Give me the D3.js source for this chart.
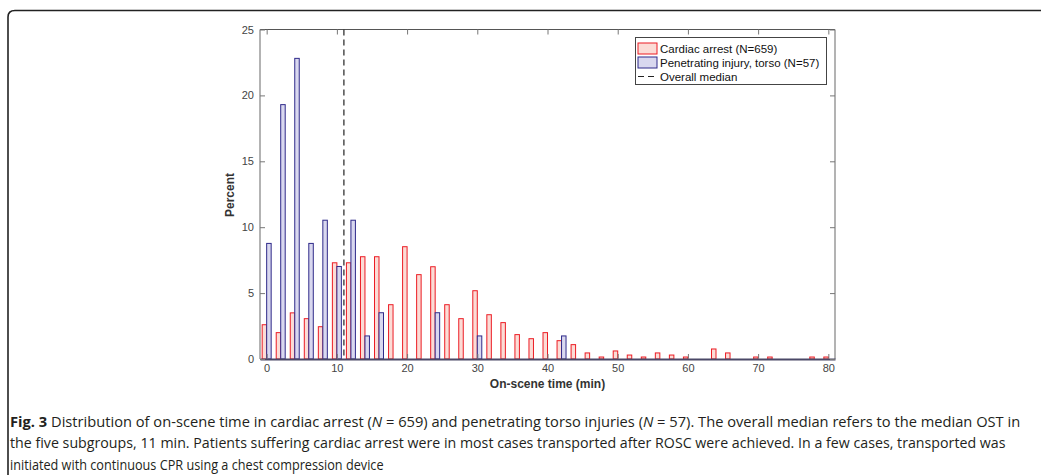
<!DOCTYPE html>
<html>
<head>
<meta charset="utf-8">
<script src="https://cdn.jsdelivr.net/npm/d3@7"></script>
<style>
html,body{margin:0;padding:0;background:#fff;}
svg{display:block;}
</style>
</head>
<body>
<svg id="chart" width="1041" height="475"></svg>
<script>
// ---- data ----
const binCenters = d3.range(0, 81, 2); // on-scene time bins (min)
const cardiacArrest = [2.6,2.0,3.5,3.06,2.45,7.3,7.3,7.76,7.76,4.12,8.52,6.4,7.0,4.12,3.06,5.18,3.36,2.76,1.85,1.54,2.0,1.39,1.09,0.46,0.15,0.61,0.3,0.15,0.46,0.3,0.15,0,0.76,0.46,0,0.15,0.15,0,0,0.15,0.15];
const penetrating = [8.77,19.3,22.81,8.77,10.53,7.02,10.53,1.75,3.51,0,0,0,3.51,0,0,1.75,0,0,0,0,0,1.75,0,0,0,0,0,0,0,0,0,0,0,0,0,0,0,0,0,0,0];
const overallMedian = 11;
const xTicks = [0,10,20,30,40,50,60,70,80];
const yTicks = [0,5,10,15,20,25];
const legendLabels = ["Cardiac arrest (N=659)", "Penetrating injury, torso (N=57)", "Overall median"];
const xLabel = "On-scene time (min)";
const yLabel = "Percent";
const captionLines = [
  [{t:"Fig. 3", b:true},{t:" Distribution of on-scene time in cardiac arrest ("},{t:"N",i:true},{t:" = 659) and penetrating torso injuries ("},{t:"N",i:true},{t:" = 57). The overall median refers to the median OST in"}],
  [{t:"the five subgroups, 11 min. Patients suffering cardiac arrest were in most cases transported after ROSC were achieved. In a few cases, transported was"}],
  [{t:"initiated with continuous CPR using a chest compression device"}]
];

// ---- layout ----
const svg = d3.select("#chart");
const L = 260, R = 835, T = 29.5, B = 359;
const x = d3.scaleLinear().domain([-0.95, 80.95]).range([L, R]);
const y = d3.scaleLinear().domain([0, 25]).range([B, T]);
const barW = 0.64;
const redEdge = "#ec1c24", redFill = "#fbdcd6";
const blueEdge = "#2f2a8a", blueFill = "#d9d8ef";
const FONT = "Arial, 'Liberation Sans', sans-serif";

// outer frame
svg.append("path")
  .attr("d", "M8,475 L8,17 Q8,10.5 15,10.5 L1041,10.5")
  .attr("fill","none").attr("stroke","#222").attr("stroke-width",1.6);

// bars
const g = svg.append("g");
binCenters.forEach((c, i) => {
  if (cardiacArrest[i] > 0) {
    g.append("rect")
      .attr("x", x(c - barW)).attr("width", x(barW) - x(0))
      .attr("y", y(cardiacArrest[i])).attr("height", y(0) - y(cardiacArrest[i]))
      .attr("fill", redFill).attr("stroke", redEdge).attr("stroke-width", 1);
  }
  if (penetrating[i] > 0) {
    g.append("rect")
      .attr("x", x(c)).attr("width", x(barW) - x(0))
      .attr("y", y(penetrating[i])).attr("height", y(0) - y(penetrating[i]))
      .attr("fill", blueFill).attr("stroke", blueEdge).attr("stroke-width", 1);
  }
});

// axes box
const axisCol = "#8a8a8a";
svg.append("line").attr("x1",L).attr("x2",R).attr("y1",T).attr("y2",T).attr("stroke","#555").attr("stroke-width",1);
svg.append("line").attr("x1",L).attr("x2",L).attr("y1",T).attr("y2",B).attr("stroke",axisCol).attr("stroke-width",1.3);
svg.append("line").attr("x1",R).attr("x2",R).attr("y1",T).attr("y2",B).attr("stroke",axisCol).attr("stroke-width",1.3);

// x axis
const xAxis = svg.append("g").attr("transform", `translate(0,${B})`)
  .call(d3.axisBottom(x).tickValues(xTicks).tickSizeInner(-5).tickSizeOuter(0).tickPadding(5));
xAxis.select(".domain").attr("stroke","#4a4867").attr("stroke-width",2);
xAxis.selectAll(".tick line").attr("stroke","#777");
xAxis.selectAll("text").attr("font-family",FONT).attr("font-size","11px").attr("fill","#444");
// top ticks
svg.append("g").attr("transform", `translate(0,${T})`)
  .call(d3.axisTop(x).tickValues(xTicks).tickSizeInner(-5).tickSizeOuter(0).tickFormat(""))
  .call(s => { s.select(".domain").remove(); s.selectAll(".tick line").attr("stroke","#777"); });

// y axis
const yAxis = svg.append("g").attr("transform", `translate(${L},0)`)
  .call(d3.axisLeft(y).tickValues(yTicks).tickSizeInner(-5).tickSizeOuter(0).tickPadding(6));
yAxis.select(".domain").remove();
yAxis.selectAll(".tick line").attr("stroke","#777");
yAxis.selectAll("text").attr("font-family",FONT).attr("font-size","11px").attr("fill","#444");
svg.append("g").attr("transform", `translate(${R},0)`)
  .call(d3.axisRight(y).tickValues(yTicks).tickSizeInner(-5).tickSizeOuter(0).tickFormat(""))
  .call(s => { s.select(".domain").remove(); s.selectAll(".tick line").attr("stroke","#777"); });

// median line
svg.append("line")
  .attr("x1", x(overallMedian)).attr("x2", x(overallMedian))
  .attr("y1", T).attr("y2", B - 1)
  .attr("stroke","#333").attr("stroke-width",1.3).attr("stroke-dasharray","6,4");

// axis labels
svg.append("text").attr("x", (L+R)/2).attr("y", 387.5).attr("text-anchor","middle")
  .attr("font-family",FONT).attr("font-size","12px").attr("font-weight","bold").attr("fill","#333")
  .text(xLabel);
svg.append("text").attr("transform", `translate(234,195) rotate(-90)`).attr("text-anchor","middle")
  .attr("font-family",FONT).attr("font-size","12px").attr("font-weight","bold").attr("fill","#333")
  .text(yLabel);

// legend
const lg = svg.append("g");
lg.append("rect").attr("x",635.5).attr("y",37.5).attr("width",191).attr("height",47)
  .attr("fill","#fff").attr("stroke","#444").attr("stroke-width",1);
const rowY = [48.5, 62.5, 76.5];
lg.append("rect").attr("x",638).attr("y",rowY[0]-5.5).attr("width",19).attr("height",11)
  .attr("fill",redFill).attr("stroke",redEdge).attr("stroke-width",1);
lg.append("rect").attr("x",638).attr("y",rowY[1]-5.5).attr("width",19).attr("height",11)
  .attr("fill",blueFill).attr("stroke",blueEdge).attr("stroke-width",1);
lg.append("line").attr("x1",638).attr("x2",657).attr("y1",rowY[2]).attr("y2",rowY[2])
  .attr("stroke","#222").attr("stroke-width",1.2).attr("stroke-dasharray","6,4");
legendLabels.forEach((t, i) => {
  lg.append("text").attr("x", 660).attr("y", rowY[i]).attr("dy","0.35em")
    .attr("font-family",FONT).attr("font-size","11.5px").attr("fill","#111")
    .text(t);
});

// caption (condensed look via horizontal scaling)
const capBase = [426.5, 448, 469.5];
const capEnd = [1021, 1006, 384];
captionLines.forEach((parts, i) => {
  const grp = svg.append("g");
  const t = grp.append("text").attr("x", 0).attr("y", 0)
    .attr("font-family","'Open Sans', sans-serif").attr("font-size","15px").attr("fill","#231f20");
  parts.forEach(p => {
    const s = t.append("tspan").text(p.t);
    if (p.b) s.attr("font-weight","bold");
    if (p.i) s.attr("font-style","italic");
  });
  const w = t.node().getComputedTextLength();
  const sx = (capEnd[i] - 10) / w;
  grp.attr("transform", `translate(10,${capBase[i]}) scale(${sx},1)`);
});
</script>
</body>
</html>
